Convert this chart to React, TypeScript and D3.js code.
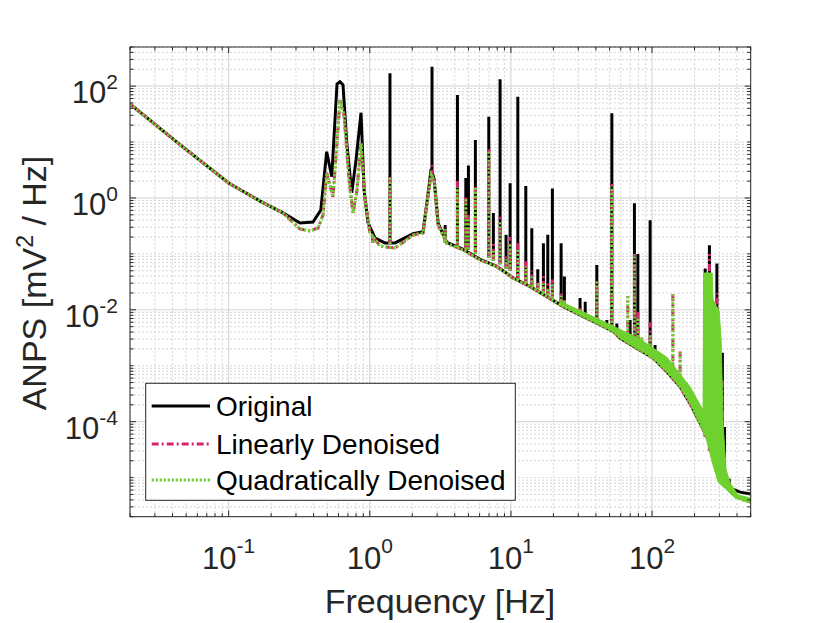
import * as d3 from 'd3';

// ---- data ----
// baseline of the original (black) spectrum: [frequency Hz, ANPS]
const origBase: [number, number][] = [
  [0.02, 47.9], [0.0452, 8.96], [0.1, 1.85], [0.1668, 0.88], [0.2428, 0.54],
  [0.32, 0.356], [0.396, 0.37], [0.45, 0.61], [0.495, 6.7], [0.538, 2.4],
  [0.586, 109], [0.615, 120], [0.646, 105], [0.687, 9.6], [0.745, 1.23],
  [0.799, 4.77], [0.867, 33.4], [0.911, 1.39], [0.972, 0.36], [1.09, 0.192],
  [1.28, 0.157], [1.51, 0.157], [2.03, 0.23], [2.385, 0.25], [2.59, 1.2],
  [2.72, 3.3], [2.855, 2.2], [3.05, 0.35], [3.51, 0.16], [4.6, 0.12],
  [6.05, 0.08], [7.94, 0.06], [10.4, 0.037], [13.7, 0.026], [17.96, 0.0172],
  [23.5, 0.0114], [30.9, 0.0081], [40.6, 0.0058], [53.2, 0.0041], [59.4, 0.0031],
  [82.3, 0.0019], [102.3, 0.00136], [127.3, 0.00078], [158, 0.00042], [186, 0.00021],
  [219, 9.4e-5], [244, 5.4e-5], [272, 2.7e-5], [304, 1.2e-5], [330, 7.5e-6],
  [357, 6.5e-6], [421, 5.5e-6], [500, 5.1e-6],
];

// baseline shared by both denoised spectra
const denoisedBase: [number, number][] = [
  [0.02, 47.9], [0.0452, 8.96], [0.1, 1.85], [0.1668, 0.88], [0.2428, 0.54],
  [0.32, 0.279], [0.377, 0.257], [0.43, 0.29], [0.4665, 0.496], [0.495, 2.8],
  [0.549, 1.05], [0.615, 56], [0.657, 30.4], [0.713, 2.09], [0.761, 0.54],
  [0.812, 1.39], [0.867, 9.5], [0.926, 0.918], [1.0, 0.246], [1.18, 0.138],
  [1.51, 0.127], [2.03, 0.218], [2.385, 0.236], [2.59, 1.13], [2.72, 2.6],
  [2.855, 2.09], [3.05, 0.328], [3.51, 0.155], [4.6, 0.117], [6.05, 0.0778],
  [7.94, 0.059], [10.4, 0.0366], [13.7, 0.0259], [17.96, 0.0172], [23.5, 0.0114],
  [30.9, 0.00807], [40.6, 0.00574], [53.2, 0.00406], [59.4, 0.0031], [82.3, 0.00191],
  [102.3, 0.00136], [127.3, 0.000783], [158, 0.000422], [186, 0.000213], [219, 9.35e-5],
  [244, 5.38e-5], [272, 2.72e-5], [304, 1.19e-5], [339, 6.9e-6], [377, 4.9e-6],
  [444, 3.98e-6], [500, 3.66e-6],
];

// thick noisy band of the quadratically denoised spectrum at high frequency
const bandTop: [number, number][] = [
  [22.3, 0.0142], [42.9, 0.0066], [82.3, 0.003], [128, 0.0014], [186, 0.00042],
  [219, 0.0002], [230, 0.00016], [232, 0.0455], [266.6, 0.0455], [270.9, 0.015],
  [298.8, 0.0095], [308.7, 0.00288], [319, 8.7e-5], [335, 1.37e-5], [357.5, 8.0e-6],
  [407, 4.9e-6], [500, 4.3e-6],
];
const bandBottom: [number, number][] = [
  [22.3, 0.0123], [30.9, 0.00807], [40.6, 0.00574], [53.2, 0.00406], [59.4, 0.0031],
  [82.3, 0.00191], [102.3, 0.00136], [127.3, 0.000783], [158, 0.000422], [186, 0.000213],
  [219, 9.35e-5], [244, 4.7e-5], [266.6, 1.9e-5], [294, 8.3e-6], [339, 6.0e-6],
  [388, 4.3e-6], [500, 3.5e-6],
];

// narrow spectral lines: frequency, level at their foot, and peak of each series
const spikeFreq = [
  1.05, 1.39, 2.76, 3.42, 4.18, 4.79, 5.0, 5.6, 6.97, 7.51,
  8.38, 9.24, 9.87, 11.19, 12.75, 14.06, 15.5, 16.99, 18.25, 19.67,
  22.68, 23.93, 30.9, 33.6, 40.6, 47.8, 51.9, 56.3, 67.3, 69.9,
  75.0, 79.3, 84.6, 96.9, 105, 117, 140.4, 154, 158, 238,
  255, 288, 315, 326, 352,
];
const spikeBase = [
  0.16, 0.15, 2.4, 0.16, 0.13, 0.12, 0.12, 0.1, 0.085, 0.075,
  0.065, 0.055, 0.05, 0.034, 0.03, 0.026, 0.023, 0.02, 0.018, 0.016,
  0.012, 0.0112, 0.0081, 0.0072, 0.0057, 0.0047, 0.0042, 0.0037, 0.0026, 0.0024,
  0.0022, 0.002, 0.0018, 0.0014, 0.0013, 0.001, 0.00065, 0.00048, 0.00042, 5.4e-5,
  3.0e-5, 1.4e-5, 1.0e-5, 9e-6, 7.5e-6,
];
const spikeOrig = [
  0.25, 169, 222, 0.33, 69, 2.27, 3.8, 10.9, 28.4, 0.54,
  132, 0.22, 1.84, 64.6, 1.63, 0.286, 0.053, 0.155, 0.22, 1.48,
  0.155, 0.0395, 0.0163, 0.014, 0.063, 0.0066, 32.6, 0.0057, 0.0026, 0.0066,
  0.8, 0.1, 0.0018, 0.4, 0.00235, 0.00135, 0.00065, 0.00064, 0.00042, 0.055,
  0.143, 0.067, 0.0017, 8e-5, 9.5e-6,
];
const spikeLin = [
  0.22, 2.5, 3.9, 0.3, 2.0, 1.05, 0.5, 1.7, 7.4, 0.15,
  0.46, 0.1, 0.2, 0.157, 0.08, 0.05, 0.035, 0.04, 0.03, 0.035,
  0.02, 0.016, 0.011, 0.009, 0.034, 0.0055, 1.97, 0.0045, 0.0175, 0.0035,
  0.1, 0.0099, 0.0033, 0.006, 0.0018, 0.0012, 0.019, 0.0005, 0.0018, 0.045,
  0.1, 0.02, 0.00056, 9e-6, 7.5e-6,
];
const spikeQuad = [
  0.22, 2.3, 2.6, 0.28, 1.57, 1.0, 0.45, 1.5, 7.2, 0.12,
  0.4, 0.08, 0.15, 0.12, 0.06, 0.04, 0.03, 0.03, 0.025, 0.03,
  0.018, 0.015, 0.01, 0.0085, 0.032, 0.0052, 1.6, 0.0042, 0.0175, 0.003,
  0.1, 0.0075, 0.0033, 0.0035, 0.0016, 0.0011, 0.019, 0.0005, 0.0018, 5.4e-5,
  3.0e-5, 1.4e-5, 1.0e-5, 9e-6, 7.5e-6,
];

const xTickExp = [-1, 0, 1, 2];
const yTickExp = [2, 0, -2, -4];
const legendLabels = ['Original', 'Linearly Denoised', 'Quadratically Denoised'];

const FONT = '"Liberation Sans", Arial, Helvetica, sans-serif';
const INK = '#262626';
const BLACK = '#000000';
const RED = '#d4246c';
const GREEN = '#6fd12f';

// 1..9 x 10^k inside [lo, hi]
const logGrid = (lo: number, hi: number) => {
  const out: number[] = [];
  for (let k = Math.floor(Math.log10(lo)); k <= Math.ceil(Math.log10(hi)); k++) {
    for (let m = 1; m <= 9; m++) {
      const v = m * 10 ** k;
      if (v >= lo * 0.9999 && v <= hi * 1.0001) out.push(v);
    }
  }
  return out;
};

export default function App() {
  const left = 130, right = 750.7, top = 47, bottom = 516.7;
  const x = d3.scaleLog().domain([0.02, 500]).range([left, right]);
  const y = d3.scaleLog().domain([2e-6, 500]).range([bottom, top]);
  const line = d3.line<[number, number]>().x(d => x(d[0])).y(d => y(d[1]));

  const seriesPath = (base: [number, number][], peaks: number[]) => {
    let d = line(base) || '';
    spikeFreq.forEach((f, i) => {
      if (peaks[i] > spikeBase[i] * 1.001) {
        d += `M${x(f)},${y(spikeBase[i])}L${x(f)},${y(peaks[i])}`;
      }
    });
    return d;
  };

  const bandPath = (line(bandTop) || '') + 'L' + (line(bandBottom.slice().reverse()) || '').slice(1) + 'Z';

  const isMajorY = (v: number) => yTickExp.some(e => Math.abs(Math.log10(v) - e) < 1e-6);
  const isMajorX = (v: number) => xTickExp.some(e => Math.abs(Math.log10(v) - e) < 1e-6);
  const [y0, y1] = y.domain();
  const [x0, x1] = x.domain();
  const yAll = logGrid(y0, y1);
  const xAll = logGrid(x0, x1);
  const yMinor = yAll.filter(v => !isMajorY(v));
  const xMinor = xAll.filter(v => !isMajorX(v));

  const legendX = 145.7, legendY = 383.3, legendW = 369.6, legendH = 117;
  const legendRows = [406, 444, 480];

  return (
    <svg width={830} height={623} style={{ position: 'absolute', left: 0, top: 0, background: '#fff' }}
      fontFamily={FONT}>
      <defs>
        <clipPath id="plot">
          <rect x={left} y={top} width={right - left} height={bottom - top} />
        </clipPath>
      </defs>
      <rect x={0} y={0} width={830} height={623} fill="#fff" />

      {/* grid */}
      <g>
        {xMinor.map(v => (
          <line key={'xm' + v} x1={x(v)} x2={x(v)} y1={top} y2={bottom} stroke="#cdcdcd" strokeWidth={0.8} strokeDasharray="2 2" />
        ))}
        {yMinor.map(v => (
          <line key={'ym' + v} x1={left} x2={right} y1={y(v)} y2={y(v)} stroke="#cdcdcd" strokeWidth={0.8} strokeDasharray="2 2" />
        ))}
        {xTickExp.map(e => (
          <line key={'xM' + e} x1={x(10 ** e)} x2={x(10 ** e)} y1={top} y2={bottom} stroke="#d2d2d2" strokeWidth={1} />
        ))}
        {yTickExp.map(e => (
          <line key={'yM' + e} x1={left} x2={right} y1={y(10 ** e)} y2={y(10 ** e)} stroke="#d2d2d2" strokeWidth={1} />
        ))}
      </g>

      {/* data */}
      <g clipPath="url(#plot)" fill="none" strokeWidth={3}>
        <path d={seriesPath(origBase, spikeOrig)} stroke={BLACK} />
        <path d={seriesPath(denoisedBase, spikeLin)} stroke={RED} strokeDasharray="7 3 2 3" />
        <path d={bandPath} fill={GREEN} stroke={GREEN} strokeWidth={1} />
        <path d={seriesPath(denoisedBase, spikeQuad)} stroke={GREEN} strokeDasharray="2.2 1.8" />
      </g>

      {/* box and ticks */}
      <rect x={left} y={top} width={right - left} height={bottom - top} fill="none" stroke={INK} strokeWidth={1} />
      <g stroke={INK} strokeWidth={1}>
        {xAll.map(v => {
          const len = isMajorX(v) ? 6 : 3.5;
          return (
            <g key={'xt' + v}>
              <line x1={x(v)} x2={x(v)} y1={bottom} y2={bottom - len} />
              <line x1={x(v)} x2={x(v)} y1={top} y2={top + len} />
            </g>
          );
        })}
        {yAll.map(v => {
          const len = isMajorY(v) ? 6 : 3.5;
          return (
            <g key={'yt' + v}>
              <line x1={left} x2={left + len} y1={y(v)} y2={y(v)} />
              <line x1={right} x2={right - len} y1={y(v)} y2={y(v)} />
            </g>
          );
        })}
      </g>

      {/* tick labels */}
      <g fill={INK} fontSize={31}>
        {xTickExp.map(e => (
          <text key={'xl' + e} x={x(10 ** e)} y={569} textAnchor="middle">
            10<tspan dy={-16} fontSize={21}>{e}</tspan>
          </text>
        ))}
        {yTickExp.map(e => (
          <text key={'yl' + e} x={118} y={y(10 ** e) + 17} textAnchor="end">
            10<tspan dy={-14} fontSize={21}>{e}</tspan>
          </text>
        ))}
      </g>

      {/* axis labels */}
      <text x={440} y={613} textAnchor="middle" fontSize={34} fill={INK}>Frequency [Hz]</text>
      <text transform="translate(46,283) rotate(-90)" textAnchor="middle" fontSize={34} fill={INK}>
        ANPS [mV<tspan dy={-13} fontSize={23}>2</tspan><tspan dy={13}>{' / Hz]'}</tspan>
      </text>

      {/* legend */}
      <rect x={legendX} y={legendY} width={legendW} height={legendH} fill="#fff" stroke={INK} strokeWidth={1} />
      <line x1={151.7} x2={210} y1={legendRows[0]} y2={legendRows[0]} stroke={BLACK} strokeWidth={3} />
      <line x1={151.7} x2={210} y1={legendRows[1]} y2={legendRows[1]} stroke={RED} strokeWidth={3} strokeDasharray="7 3 2 3" />
      <line x1={151.7} x2={210} y1={legendRows[2]} y2={legendRows[2]} stroke={GREEN} strokeWidth={3} strokeDasharray="2.2 1.8" />
      {legendLabels.map((s, i) => (
        <text key={s} x={216} y={legendRows[i] + 10} fontSize={28} fill="#000">{s}</text>
      ))}
    </svg>
  );
}
